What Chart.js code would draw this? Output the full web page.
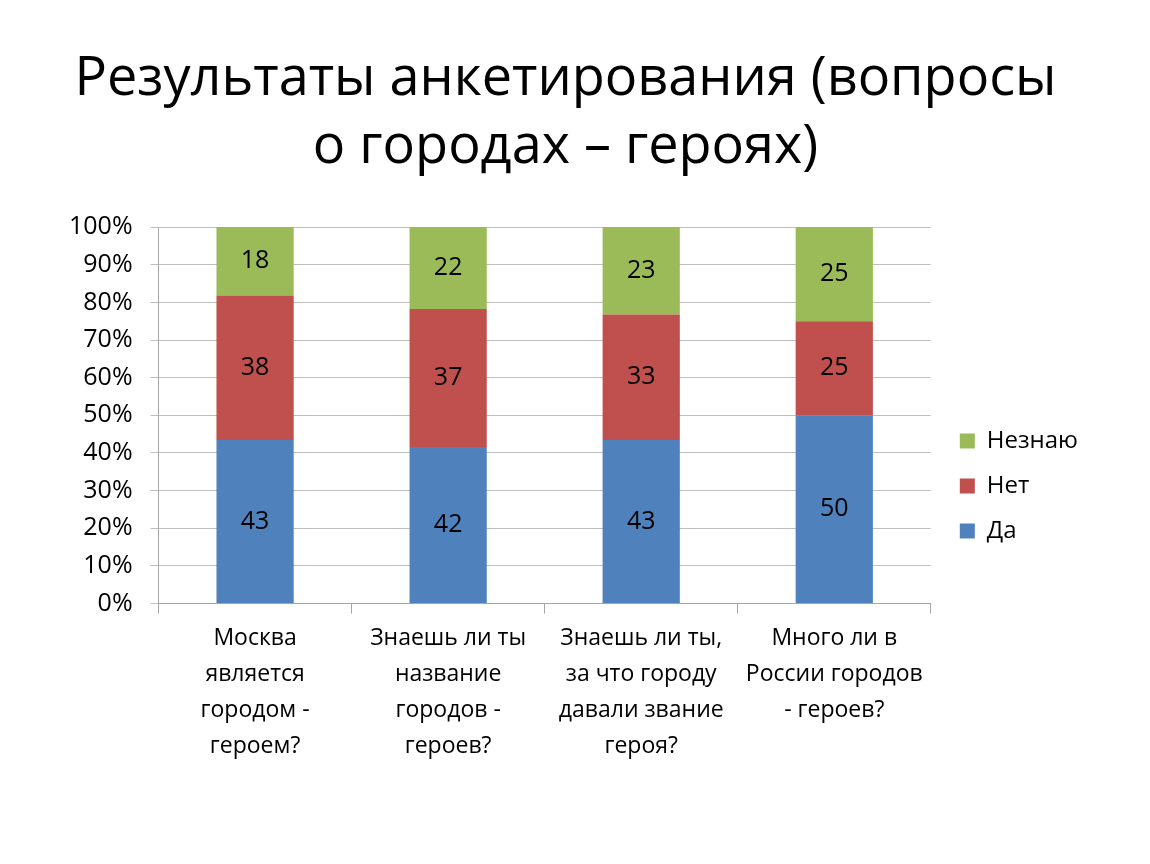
<!DOCTYPE html>
<html lang="ru">
<head>
    <meta charset="UTF-8">
    <title>Результаты анкетирования</title>
    <script src="https://cdn.jsdelivr.net/npm/chart.js"></script>
    <style>
        body { margin: 0; background: #fff; }
        #wrap { width: 1150px; height: 864px; }
    </style>
</head>
<body>
    <div id="wrap">
        <canvas id="anketaChart" width="1150" height="864"></canvas>
    </div>

    <script>
        // Вопросы (подписи по оси X, многострочные)
        var categories = [
            ['Москва', 'является', 'городом -', 'героем?'],
            ['Знаешь ли ты', 'название', 'городов -', 'героев?'],
            ['Знаешь ли ты,', 'за что городу', 'давали звание', 'героя?'],
            ['Много ли в', 'России городов', '- героев?']
        ];

        // Ответы (значения как на подписях)
        var da = [43, 42, 43, 50];
        var net = [38, 37, 33, 25];
        var neznayu = [18, 22, 23, 25];

        var yTicks = [0, 10, 20, 30, 40, 50, 60, 70, 80, 90, 100];

        var fontFamily = '"Open Sans", "Noto Sans", sans-serif';

        // нормировка до 100% для каждого вопроса
        var totals = da.map(function (v, i) { return v + net[i] + neznayu[i]; });
        function pct(arr) {
            return arr.map(function (v, i) { return v / totals[i] * 100; });
        }

        var rawValues = [da, net, neznayu];

        // Подписи значений в центре сегментов
        var valueLabels = {
            id: 'valueLabels',
            afterDatasetsDraw: function (chart) {
                var ctx = chart.ctx;
                ctx.save();
                ctx.font = '25px ' + fontFamily;
                ctx.fillStyle = '#000';
                ctx.textAlign = 'center';
                ctx.textBaseline = 'middle';
                chart.data.datasets.forEach(function (ds, di) {
                    chart.getDatasetMeta(di).data.forEach(function (bar, i) {
                        var mid = (bar.y + bar.base) / 2;
                        ctx.fillText(String(rawValues[di][i]), bar.x, mid);
                    });
                });
                ctx.restore();
            }
        };

        // сдвиг легенды немного вправо
        var legendShift = {
            id: 'legendShift',
            afterLayout: function (chart) {
                if (chart.legend) {
                    chart.legend.left += 8;
                    chart.legend.right += 8;
                }
            }
        };

        var anketaChart = new Chart(document.getElementById('anketaChart'), {
            type: 'bar',
            data: {
                labels: categories,
                datasets: [
                    { label: 'Да', data: pct(da), backgroundColor: '#4f81bd' },
                    { label: 'Нет', data: pct(net), backgroundColor: '#c0504d' },
                    { label: 'Незнаю', data: pct(neznayu), backgroundColor: '#9bbb59' }
                ]
            },
            options: {
                responsive: false,
                animation: false,
                barPercentage: 0.4,
                categoryPercentage: 1,
                layout: {
                    padding: { left: 51, right: 70, top: 0, bottom: 92 }
                },
                plugins: {
                    title: {
                        display: true,
                        text: ['Результаты анкетирования (вопросы', 'о городах – героях)'],
                        color: '#000',
                        font: { family: fontFamily, size: 54, weight: 'normal', lineHeight: 1.26 },
                        padding: { top: 46, bottom: 45 }
                    },
                    legend: {
                        position: 'right',
                        reverse: true,
                        title: {
                            display: true,
                            text: ' ',
                            padding: 0,
                            font: { size: 200, lineHeight: 1 }
                        },
                        labels: {
                            color: '#000',
                            boxWidth: 15,
                            boxHeight: 15,
                            padding: 21,
                            font: { family: fontFamily, size: 24 }
                        }
                    },
                    tooltip: { enabled: false }
                },
                scales: {
                    x: {
                        stacked: true,
                        border: { color: '#a6a6a6' },
                        grid: {
                            offset: true,
                            drawOnChartArea: false,
                            drawTicks: true,
                            tickLength: 10,
                            color: '#a6a6a6'
                        },
                        ticks: {
                            color: '#000',
                            maxRotation: 0,
                            autoSkip: false,
                            padding: 7,
                            font: { family: fontFamily, size: 23, lineHeight: 1.57 }
                        }
                    },
                    y: {
                        stacked: true,
                        min: 0,
                        max: 100,
                        afterBuildTicks: function (axis) {
                            axis.ticks = yTicks.map(function (v) { return { value: v }; });
                        },
                        border: { color: '#a6a6a6' },
                        grid: {
                            color: '#bfbfbf',
                            tickLength: 8
                        },
                        ticks: {
                            color: '#000',
                            padding: 18,
                            font: { family: fontFamily, size: 25 },
                            callback: function (v) { return v + '%'; }
                        }
                    }
                }
            },
            plugins: [valueLabels, legendShift]
        });
    </script>
</body>
</html>
